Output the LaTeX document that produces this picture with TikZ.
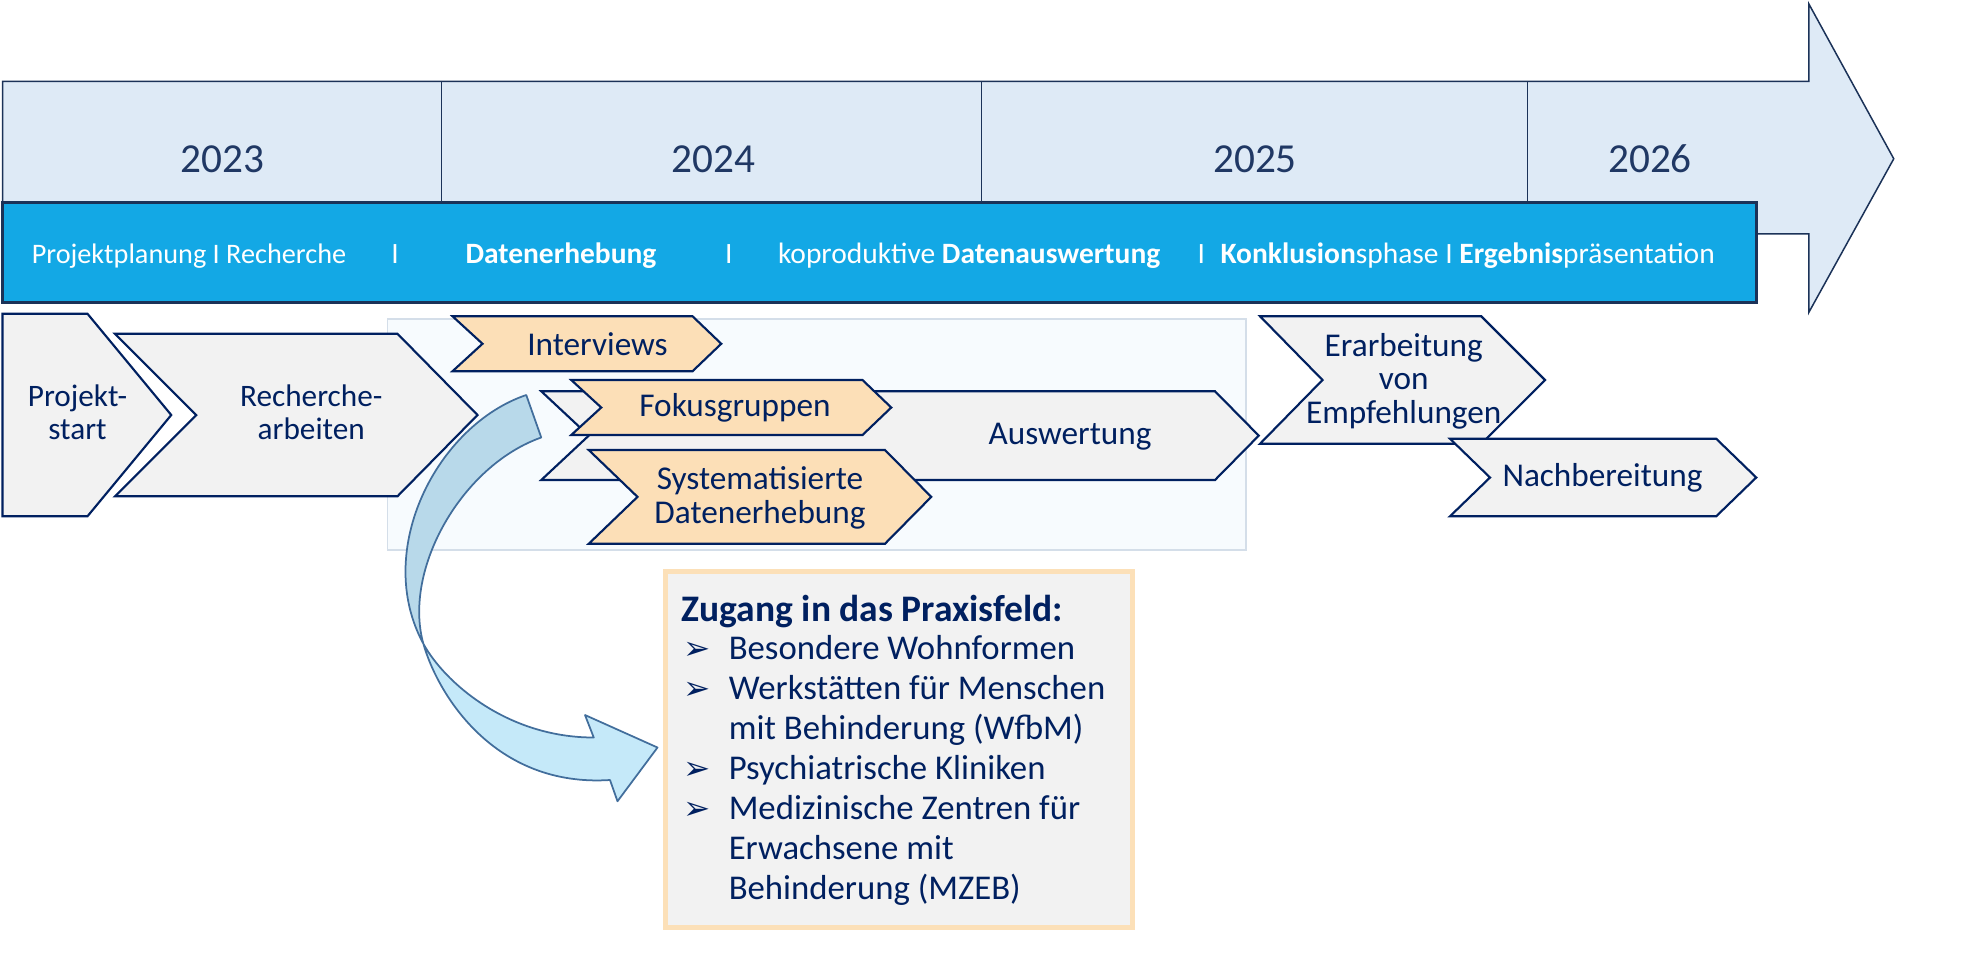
\documentclass[tikz,border=0pt]{standalone}
\usepackage{fontspec}
\setmainfont{Carlito}
\newfontfamily\symfont{DejaVu Sans}
\usetikzlibrary{positioning}

\definecolor{navy}{RGB}{0,32,96}
\definecolor{yearblue}{RGB}{32,56,100}
\definecolor{timeline}{RGB}{222,234,246}
\definecolor{bandblue}{RGB}{19,168,229}
\definecolor{bandedge}{RGB}{27,50,88}
\definecolor{chevgray}{RGB}{242,242,242}
\definecolor{chevorange}{RGB}{252,223,183}
\definecolor{fieldbg}{RGB}{247,251,254}
\definecolor{fieldedge}{RGB}{212,222,233}
\definecolor{boxedge}{RGB}{252,224,184}
\definecolor{arrowtop}{RGB}{184,217,234}
\definecolor{arrowbot}{RGB}{197,233,249}
\definecolor{arrowedge}{RGB}{66,110,156}

\newcommand{\phaseshape}[7]{%
  \draw[#1] (#2,#4) -- (#3,#4) -- ({#3+#6},{(#4+#5)/2}) -- (#3,#5) -- (#2,#5) -- ({#2+#7},{(#4+#5)/2}) -- cycle;}
\newcommand{\bul}{\makebox[18.8pt][l]{\hspace{0.5pt}{\symfont\fontsize{13}{13}\selectfont ➢}}}
\newcommand{\indentbul}{\hspace*{18.8pt}}

\begin{document}
\begin{tikzpicture}[%
    x=0.5pt,
    y=-0.5pt,
    phase/.style={draw=navy, line width=0.85pt, line join=miter},
    graybox/.style={phase, fill=chevgray},
    orangebox/.style={phase, fill=chevorange},
    phasetext/.style={text=navy, align=center, inner sep=0pt, font=\fontsize{13.3}{13.5}\selectfont},
    smalltext/.style={phasetext, font=\fontsize{12.5}{13}\selectfont},
    year/.style={text=yearblue, anchor=base, font=\fontsize{16.5}{16.5}\selectfont},
    bandtext/.style={text=white, anchor=base west, inner sep=0pt, font=\fontsize{11.8}{12}\selectfont},
    titletext/.style={text=navy, anchor=base west, inner sep=0pt, font=\fontsize{15}{16}\bfseries},
    listtext/.style={text=navy, align=left, inner sep=0pt, font=\fontsize{13.9}{16}\selectfont}
  ]

  \useasboundingbox (0,0) rectangle (1569.6,778.4);

  \draw[draw=bandedge, line width=0.6pt, fill=timeline]
    (2,65) -- (1447,65) -- (1447,3) -- (1515,127) -- (1447,250) -- (1447,187) -- (2,187) -- cycle;
  \foreach \x in {353,785,1222}
    \draw[draw=bandedge, line width=0.6pt] (\x,65) -- (\x,162);
  \node[year] (y2023) at (178,138) {2023};
  \node[year] (y2024) at (571,138) {2024};
  \node[year] (y2025) at (1004,138) {2025};
  \node[year] (y2026) at (1320,138) {2026};

  \draw[fill=bandblue, draw=bandedge, line width=1.2pt] (2,162) rectangle (1405,242);
  \node[bandtext, font=\fontsize{11.3}{12}\selectfont] (planning) at (25,211) {Projektplanung I Recherche};
  \node[bandtext, anchor=base] (sep1) at (316,211) {I};
  \node[bandtext] (collection) at (372,211) {\textbf{Datenerhebung}};
  \node[bandtext, anchor=base] (sep2) at (583,211) {I};
  \node[bandtext] (evaluation) at (622,211) {koproduktive \textbf{Datenauswertung}};
  \node[bandtext, anchor=base] (sep3) at (961,211) {I};
  \node[bandtext] (conclusion) at (976,211) {\textbf{Konklusion}sphase I \textbf{Ergebnis}präsentation};

  \draw[fill=fieldbg, draw=fieldedge, line width=0.7pt] (310,255) rectangle (997,440);

  \phaseshape{graybox}{92}{318}{267}{397}{64}{65}
  \node[smalltext] (research) at (249,330) {Recherche-\\arbeiten};
  \phaseshape{graybox}{2}{70}{251}{413}{67}{0}
  \node[smalltext] (start) at (62,330) {Projekt-\\start};
  \phaseshape{orangebox}{362}{554}{253}{297}{23}{24}
  \node[phasetext] (interviews) at (478,275) {Interviews};
  \phaseshape{graybox}{433}{972}{313}{384}{35}{38}
  \node[phasetext] (analysis) at (856,349) {Auswertung};
  \phaseshape{orangebox}{457}{690}{304}{348}{23}{24}
  \node[phasetext] (focus) at (588,326) {Fokusgruppen};
  \phaseshape{orangebox}{471}{708}{360}{435}{37}{39}
  \node[phasetext] (survey) at (608,398) {Systematisierte\\Datenerhebung};
  \phaseshape{graybox}{1008}{1185}{253}{355}{51}{50}
  \node[phasetext] (recommend) at (1123,305) {Erarbeitung\\von\\Empfehlungen};
  \phaseshape{graybox}{1160}{1373}{351}{413}{32}{32}
  \node[phasetext] (followup) at (1282,382) {Nachbereitung};

  \coordinate (tailA) at (421,316);
  \coordinate (tailB) at (433,350);
  \coordinate (cross) at (338.7,515);
  \coordinate (baseA) at (475,590);
  \coordinate (baseB) at (488,624);
  \path[fill=arrowtop] (tailA) .. controls (350,340) and (298,440) .. (cross)
    .. controls (322,455) and (370,372) .. (tailB) -- cycle;
  \path[fill=arrowbot] (cross) .. controls (350,555) and (395,630) .. (baseB)
    -- (494,641) -- (526,598) -- (468,572) -- (baseA)
    .. controls (405,590) and (355,545) .. (cross) -- cycle;
  \draw[arrowedge, line width=0.7pt, line join=round]
    (tailA) .. controls (350,340) and (298,440) .. (cross)
    .. controls (355,545) and (405,590) .. (baseA)
    -- (468,572) -- (526,598) -- (494,641) -- (baseB)
    .. controls (395,630) and (350,555) .. (cross)
    .. controls (322,455) and (370,372) .. (tailB) -- cycle;

  \draw[fill=chevgray, draw=boxedge, line width=2pt] (532,457) rectangle (906,742);
  \node[titletext] (ztitle) at (545,497) {Zugang in das Praxisfeld:};
  \node[listtext, below=2.5pt of ztitle.south west, anchor=north west] (zlist) {%
    \bul Besondere Wohnformen\\
    \bul Werkstätten für Menschen\\
    \indentbul mit Behinderung (WfbM)\\
    \bul Psychiatrische Kliniken\\
    \bul Medizinische Zentren für\\
    \indentbul Erwachsene mit\\
    \indentbul Behinderung (MZEB)};
\end{tikzpicture}
\end{document}
